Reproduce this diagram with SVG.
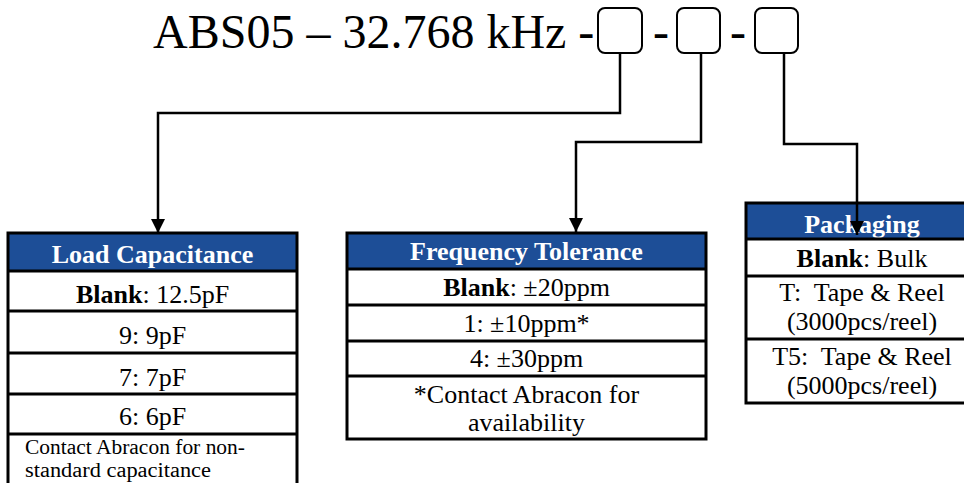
<svg xmlns="http://www.w3.org/2000/svg" width="964" height="483" viewBox="0 0 964 483">
<style>
text{font-family:"Liberation Serif","Times New Roman",serif;fill:#000}
.title{font-size:48px}
.hdr{fill:#1D4E97}
.hdrt{font-size:26px;font-weight:bold;fill:#fff;text-anchor:middle}
.t{font-size:26px;text-anchor:middle}
.b{font-weight:bold}
.frame{fill:none;stroke:#000;stroke-width:3}
.div{stroke:#000;stroke-width:3}
.slot{fill:#fff;stroke:#000;stroke-width:2}
.conn{fill:none;stroke:#000;stroke-width:2.5}
.note{font-size:20px}
</style>
<defs>
<marker id="arr" markerUnits="userSpaceOnUse" viewBox="0 0 14 14" markerWidth="14" markerHeight="14" refX="14" refY="7" orient="auto">
<path d="M0,0 L14,7 L0,14 z" fill="#000"/>
</marker>
</defs>
<rect width="964" height="483" fill="#fff"/>

<g id="title">
<text class="title" x="153" y="48">ABS05 – 32.768 kHz -</text>
<rect class="slot" x="598" y="8" width="44" height="45" rx="7"/>
<text class="title" x="653" y="48">-</text>
<rect class="slot" x="677" y="8" width="43" height="45" rx="7"/>
<text class="title" x="730" y="48">-</text>
<rect class="slot" x="755" y="8" width="43" height="45" rx="7"/>
</g>

<g id="load-capacitance">
<rect class="hdr" x="8" y="233" width="289" height="38"/>
<rect x="8" y="271" width="289" height="220" fill="#fff"/>
<text class="hdrt" x="152.5" y="263">Load Capacitance</text>
<line class="div" x1="8" y1="271" x2="297" y2="271"/>
<text class="t" x="152.5" y="303"><tspan class="b">Blank</tspan>: 12.5pF</text>
<line class="div" x1="8" y1="311" x2="297" y2="311"/>
<text class="t" x="152.5" y="344">9: 9pF</text>
<line class="div" x1="8" y1="353" x2="297" y2="353"/>
<text class="t" x="152.5" y="386">7: 7pF</text>
<line class="div" x1="8" y1="394" x2="297" y2="394"/>
<text class="t" x="152.5" y="425">6: 6pF</text>
<line class="div" x1="8" y1="434" x2="297" y2="434"/>
<text class="note" x="25" y="454" textLength="220" lengthAdjust="spacingAndGlyphs">Contact Abracon for non-</text>
<text class="note" x="25" y="477" textLength="186" lengthAdjust="spacingAndGlyphs">standard capacitance</text>
<path class="frame" d="M8,495 V233 H297 V495"/>
</g>

<g id="frequency-tolerance">
<rect class="hdr" x="347" y="233" width="359" height="36"/>
<rect x="347" y="269" width="359" height="170" fill="#fff"/>
<text class="hdrt" x="526.5" y="260">Frequency Tolerance</text>
<line class="div" x1="347" y1="269" x2="706" y2="269"/>
<text class="t" x="526.5" y="296"><tspan class="b">Blank</tspan>: ±20ppm</text>
<line class="div" x1="347" y1="305" x2="706" y2="305"/>
<text class="t" x="526.5" y="332">1: ±10ppm*</text>
<line class="div" x1="347" y1="341" x2="706" y2="341"/>
<text class="t" x="526.5" y="367">4: ±30ppm</text>
<line class="div" x1="347" y1="376" x2="706" y2="376"/>
<text class="t" x="526.5" y="403">*Contact Abracon for</text>
<text class="t" x="526.5" y="431">availability</text>
<rect class="frame" x="347" y="233" width="359" height="206"/>
</g>

<g id="packaging">
<rect class="hdr" x="746" y="203" width="234" height="36"/>
<rect x="746" y="239" width="234" height="164" fill="#fff"/>
<text class="hdrt" x="862" y="233">Packaging</text>
<line class="div" x1="746" y1="239" x2="980" y2="239"/>
<text class="t" x="862" y="267"><tspan class="b">Blank</tspan>: Bulk</text>
<line class="div" x1="746" y1="276" x2="980" y2="276"/>
<text class="t" x="862" y="301" xml:space="preserve">T:  Tape &amp; Reel</text>
<text class="t" x="862" y="330">(3000pcs/reel)</text>
<line class="div" x1="746" y1="339" x2="980" y2="339"/>
<text class="t" x="862" y="365" xml:space="preserve">T5:  Tape &amp; Reel</text>
<text class="t" x="862" y="394">(5000pcs/reel)</text>
<rect class="frame" x="746" y="203" width="234" height="200"/>
</g>

<g id="connectors">
<path class="conn" d="M620,53 V113 H158 V233" marker-end="url(#arr)"/>
<path class="conn" d="M701,53 V142 H576 V232" marker-end="url(#arr)"/>
<path class="conn" d="M784,53 V144 H857 V235" marker-end="url(#arr)"/>
</g>
</svg>
